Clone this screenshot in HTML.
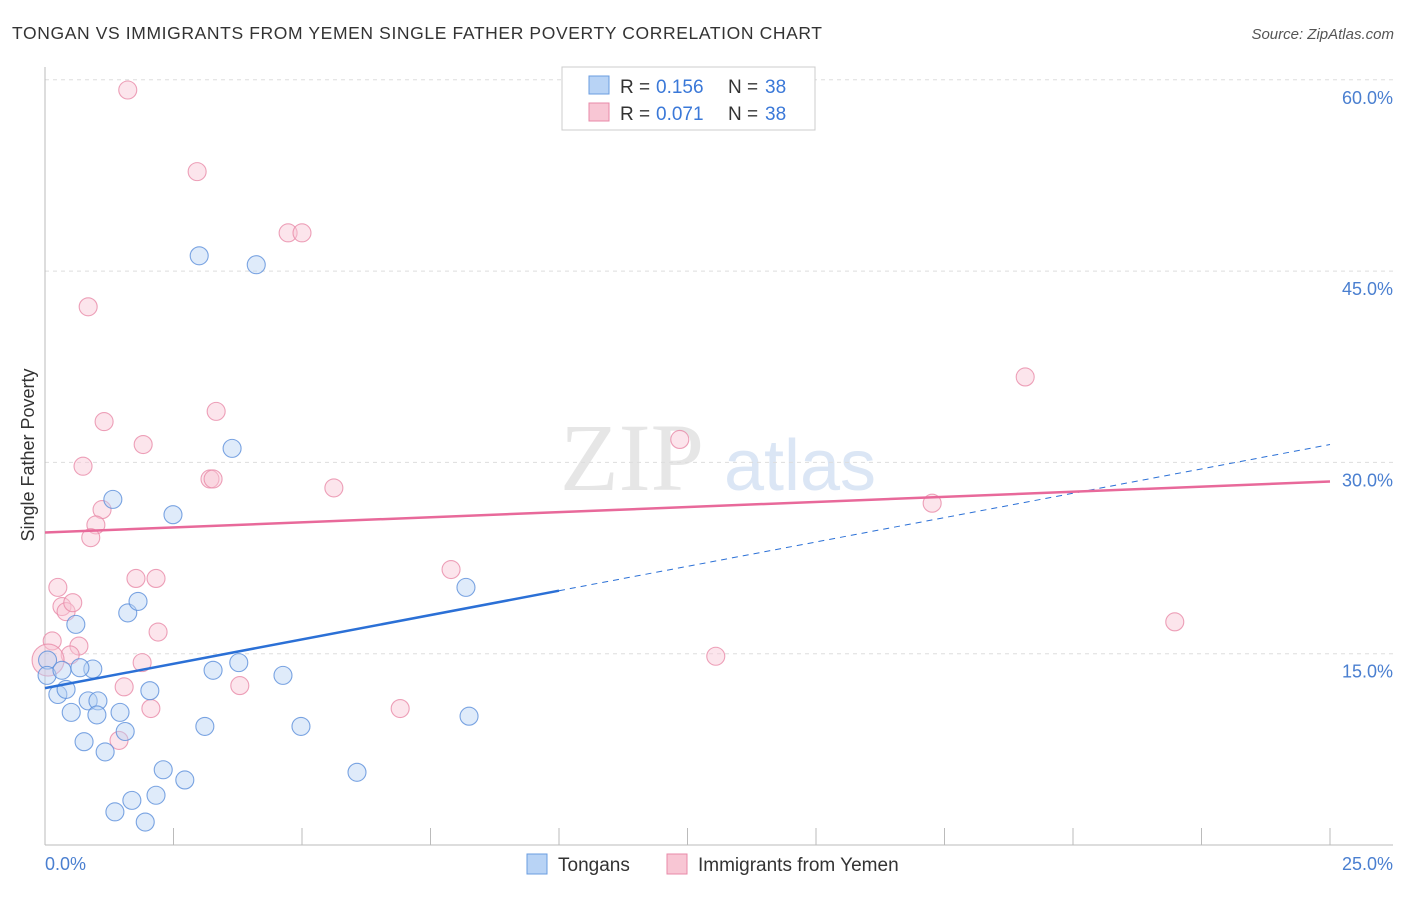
<!DOCTYPE html>
<html><head><meta charset="utf-8"><style>
body{margin:0;background:#fff;font-family:"Liberation Sans",sans-serif;}
</style></head><body>
<svg width="1406" height="892" xmlns="http://www.w3.org/2000/svg" id="svg" font-family="Liberation Sans, sans-serif">
<text x="12" y="39" font-size="17.5" fill="#333" textLength="810">TONGAN VS IMMIGRANTS FROM YEMEN SINGLE FATHER POVERTY CORRELATION CHART</text>
<text x="1394" y="39" font-size="15" fill="#555" font-style="italic" text-anchor="end">Source: ZipAtlas.com</text>
<text x="632" y="490" font-size="96" fill="#e6e6e6" font-family="Liberation Serif, serif" text-anchor="middle">ZIP</text>
<text x="800" y="490" font-size="72" fill="#dbe6f5" text-anchor="middle">atlas</text>
<g id="grid"></g><g id="axes"></g><g id="pts"></g><g id="trend"></g>
<text transform="translate(34,455) rotate(-90)" font-size="18" fill="#333" text-anchor="middle">Single Father Poverty</text>
<g>
<rect x="562" y="67" width="253" height="63" fill="#fff" stroke="#ccc"/>
<rect x="589" y="76" width="20" height="18" fill="#b8d3f5" stroke="#6a9de0"/>
<rect x="589" y="103" width="20" height="18" fill="#f8c6d4" stroke="#e88aa8"/>
<text x="620" y="93" font-size="19" fill="#333">R =</text>
<text x="656" y="93" font-size="19" fill="#3a78d8">0.156</text>
<text x="728" y="93" font-size="19" fill="#333">N =</text>
<text x="765" y="93" font-size="19" fill="#3a78d8">38</text>
<text x="620" y="120" font-size="19" fill="#333">R =</text>
<text x="656" y="120" font-size="19" fill="#3a78d8">0.071</text>
<text x="728" y="120" font-size="19" fill="#333">N =</text>
<text x="765" y="120" font-size="19" fill="#3a78d8">38</text>
</g>
<g>
<rect x="527" y="854" width="20" height="20" fill="#b8d3f5" stroke="#6a9de0"/>
<text x="558" y="871" font-size="19" fill="#333">Tongans</text>
<rect x="667" y="854" width="20" height="20" fill="#f8c6d4" stroke="#e88aa8"/>
<text x="698" y="871" font-size="19" fill="#333">Immigrants from Yemen</text>
</g>
</svg>
<script>
const yTicks=[15,30,45,60];
const yTickLabels=["15.0%","30.0%","45.0%","60.0%"];
const xTickLabels=["0.0%","25.0%"];
const blueX=[0.05,0.04,0.25,0.41,0.33,0.93,0.51,0.60,0.68,0.76,0.84,1.03,1.01,1.17,1.32,1.36,1.46,1.56,1.61,1.69,1.81,1.95,2.04,2.16,2.30,2.49,2.72,3.00,3.11,3.27,3.64,3.77,4.11,4.63,4.98,6.07,8.19,8.25];
const blueY=[14.5,13.3,11.8,12.2,13.7,13.8,10.4,17.3,13.9,8.1,11.3,11.3,10.2,7.3,27.1,2.6,10.4,8.9,18.2,3.5,19.1,1.8,12.1,3.9,5.9,25.9,5.1,46.2,9.3,13.7,31.1,14.3,45.5,13.3,9.3,5.7,20.2,10.1];
const pinkX=[1.61,2.96,4.73,5.00,0.84,1.15,1.91,0.74,3.33,3.21,3.27,5.62,1.11,0.99,0.89,0.25,1.77,2.16,0.33,0.41,0.54,2.20,0.14,0.66,0.49,1.89,1.54,3.79,2.06,1.44,6.91,7.90,12.35,13.05,17.26,19.07,21.98,0.06];
const pinkY=[59.2,52.8,48.0,48.0,42.2,33.2,31.4,29.7,34.0,28.7,28.7,28.0,26.3,25.1,24.1,20.2,20.9,20.9,18.7,18.3,19.0,16.7,16.0,15.6,14.9,14.3,12.4,12.5,10.7,8.2,10.7,21.6,31.8,14.8,26.8,36.7,17.5,14.5];
const blueTrend=[12.3,31.4];
const pinkTrend=[24.5,28.5];
const NS="http://www.w3.org/2000/svg";
const X=v=>45+v/25*1285, Y=v=>845-v/15*191.3;
function mk(p,tag,a){const e=document.createElementNS(NS,tag);for(const k in a)e.setAttribute(k,a[k]);document.getElementById(p).appendChild(e);return e;}
yTicks.forEach((t,i)=>{
 const l=mk('grid','line',{x1:45,x2:1393,y1:Y(t),y2:Y(t),stroke:'#ddd','stroke-dasharray':'4,4'});
 
 
 const tx=mk('grid','text',{x:1393,y:Y(t)+24,'font-size':18,fill:'#4a7fd0','text-anchor':'end'});
 tx.textContent=yTickLabels[i];
 
 
});
const ya=mk('axes','line',{x1:45,x2:45,y1:67,y2:845,stroke:'#bbb'});


const xa=mk('axes','line',{x1:45,x2:1393,y1:845,y2:845,stroke:'#bbb'});


for(let i=1;i<=10;i++){const t=mk('axes','line',{x1:X(i*2.5),x2:X(i*2.5),y1:828,y2:845,stroke:'#bbb'});
 
 }
[[0,'start',45],[25,'end',1393]].forEach((d,i)=>{const t=mk('axes','text',{x:d[2],y:870,'font-size':18,fill:'#4a7fd0','text-anchor':d[1]});t.textContent=xTickLabels[i];
 
 });
function pts(xs,ys,fill,stroke,name){xs.forEach((x,i)=>{const big=i==xs.length-1&&x<0.1;
 const c=mk('pts','circle',{cx:X(x),cy:Y(ys[i]),r:big?16:9,fill:fill,'fill-opacity':big?0.5:0.45,stroke:stroke,'stroke-opacity':0.8,'stroke-width':1.1});
 
 });}
pts(pinkX,pinkY,'#f8c6d4','#e88aa8','yemen-point');
pts(blueX,blueY,'#b8d3f5','#5b8fdb','tongan-point');
const bt=v=>blueTrend[0]+(blueTrend[1]-blueTrend[0])*v/25;
const b1=mk('trend','line',{x1:X(0),y1:Y(bt(0)),x2:X(10),y2:Y(bt(10)),stroke:'#2b70d6','stroke-width':2.5});


const b2=mk('trend','line',{x1:X(10),y1:Y(bt(10)),x2:X(25),y2:Y(bt(25)),stroke:'#2b70d6','stroke-width':1,'stroke-dasharray':'6,5'});


const p1=mk('trend','line',{x1:X(0),y1:Y(pinkTrend[0]),x2:X(25),y2:Y(pinkTrend[1]),stroke:'#e8699a','stroke-width':2.5});


</script>
</body></html>
